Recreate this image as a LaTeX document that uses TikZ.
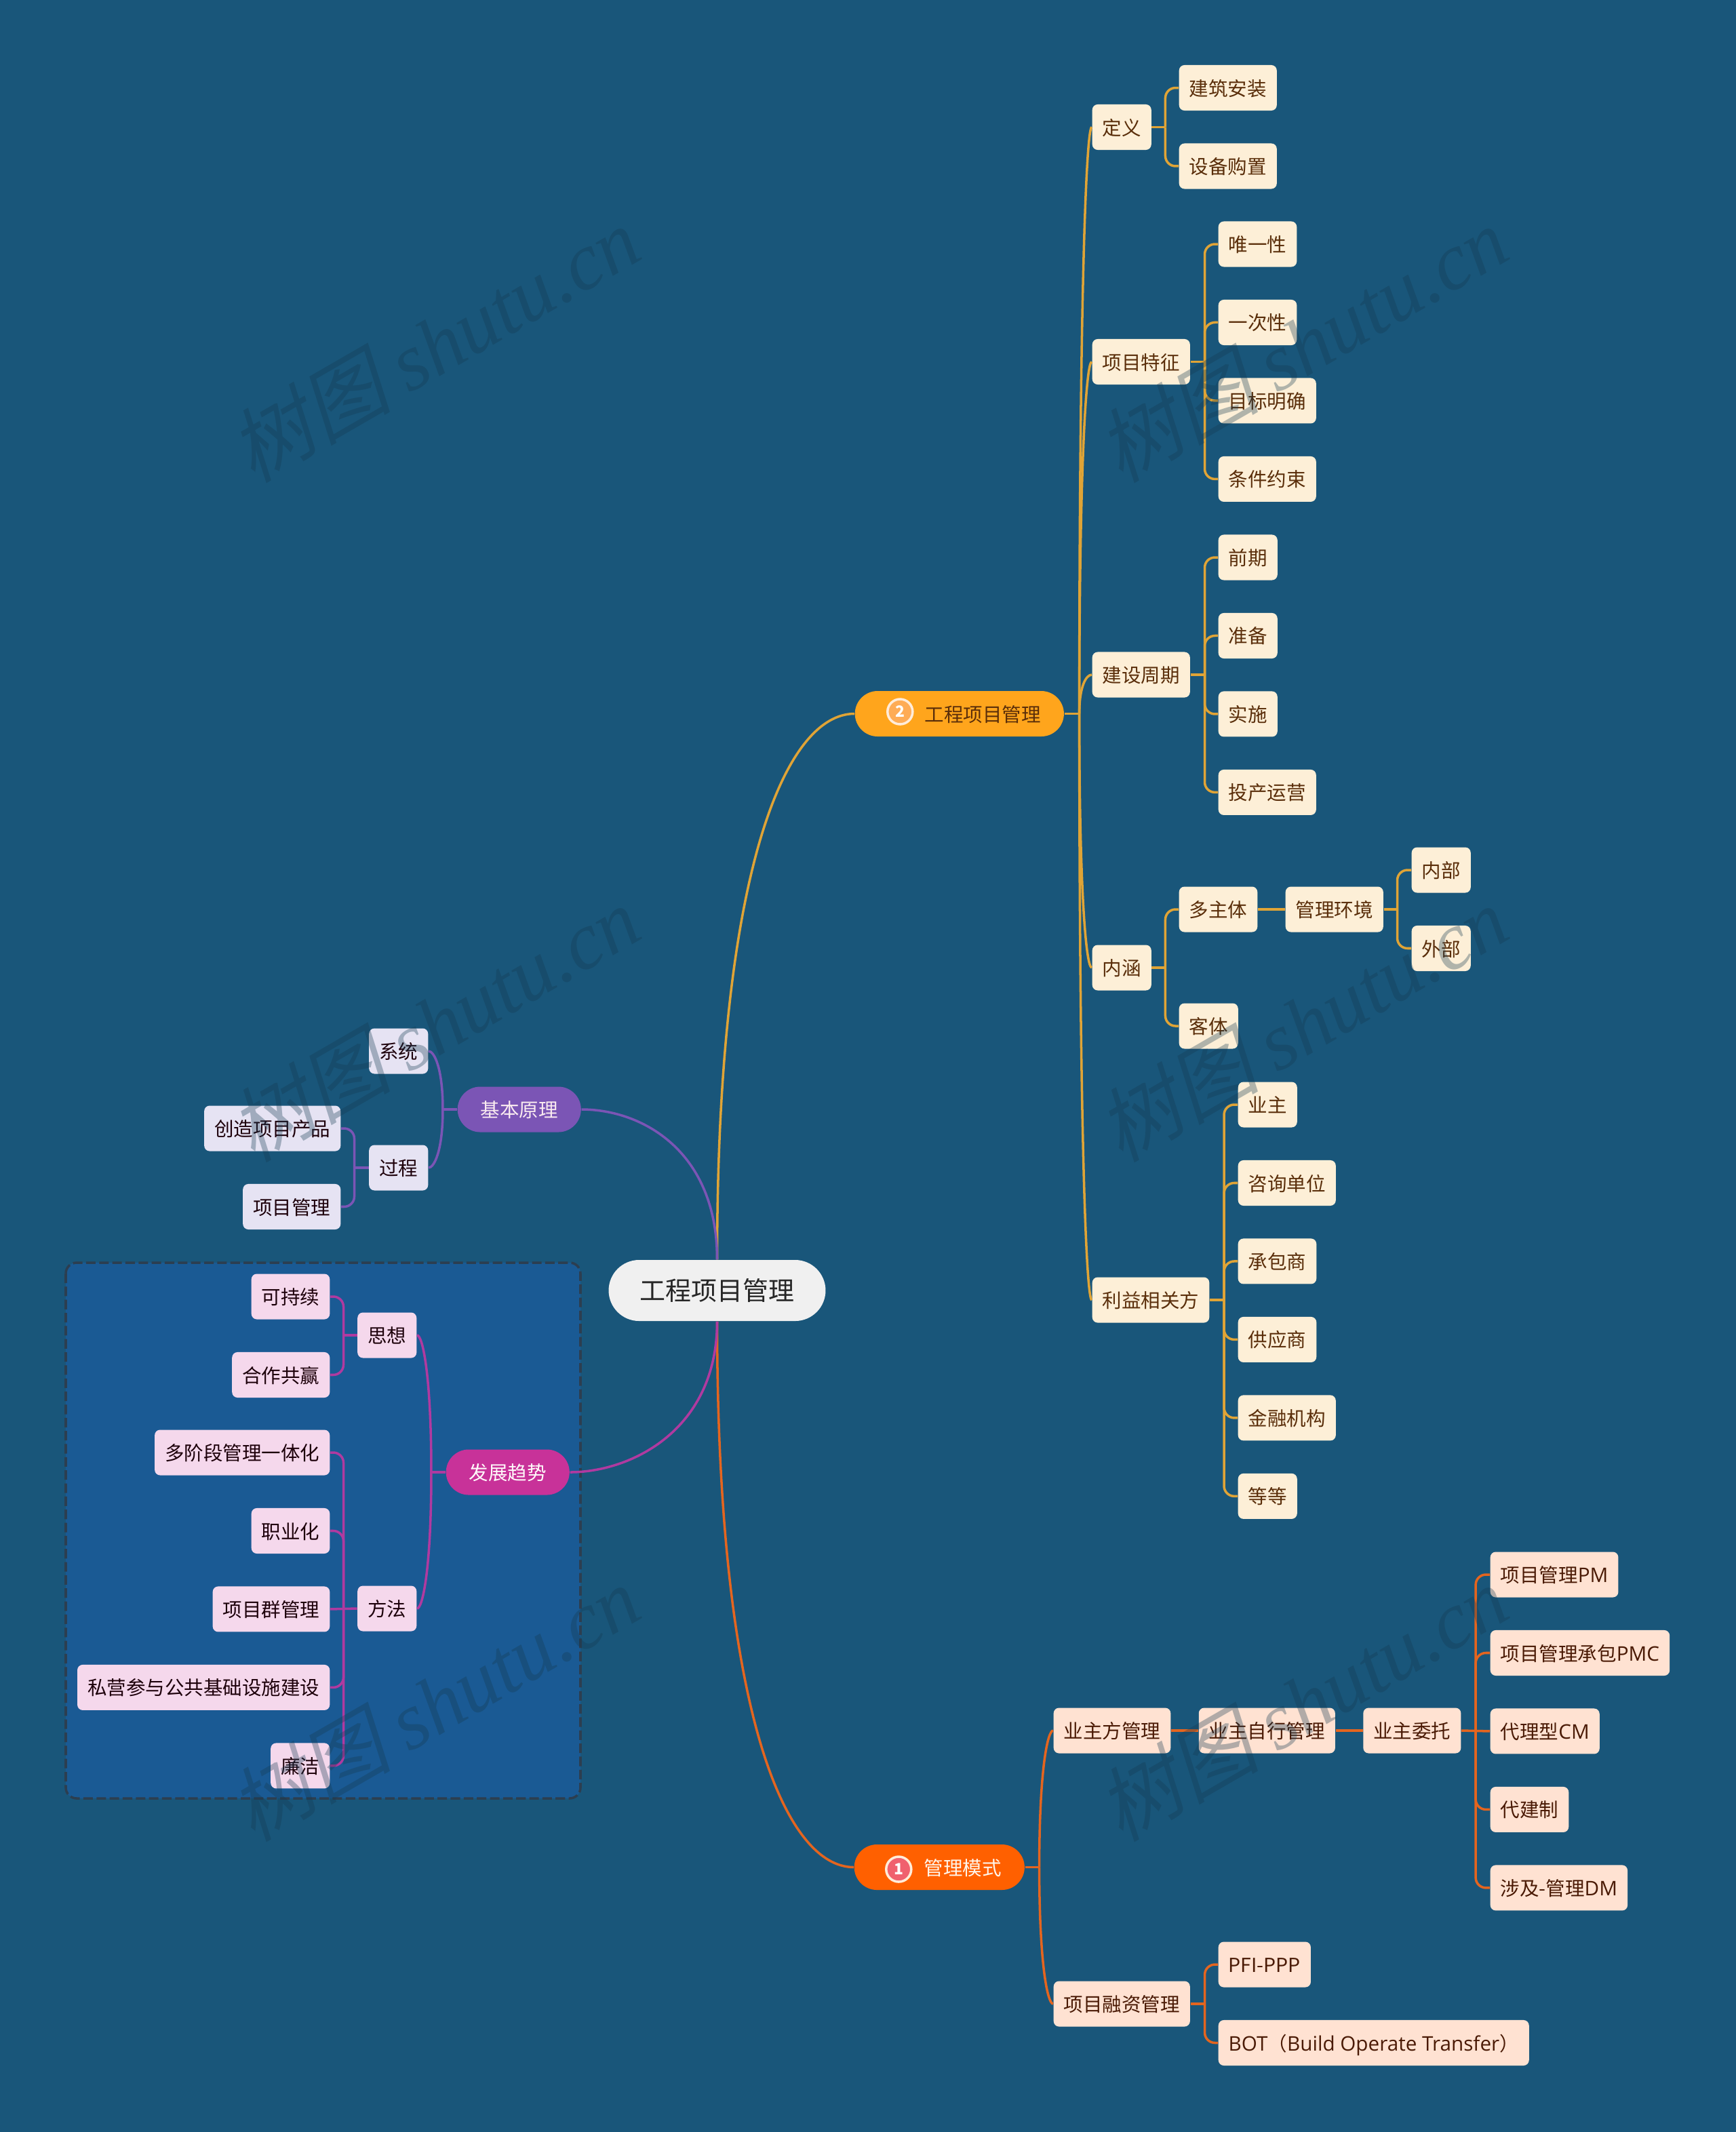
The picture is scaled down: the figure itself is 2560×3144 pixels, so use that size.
\documentclass[tikz,border=0pt]{standalone}
\usepackage{fontspec}
\setmainfont{Noto Sans CJK SC}
\newfontfamily\markcjk[FakeSlant=0.22]{Noto Sans CJK SC}
\newfontfamily\marklatin[ItalicFont={Liberation Serif Italic}]{Liberation Serif}
\newfontfamily\latinface[Scale=1.04]{Open Sans}
\usepackage{xcolor}
\usetikzlibrary{arrows.meta, positioning, calc}
\definecolor{paper}{HTML}{19567A}
\definecolor{boxblue}{HTML}{1A5A94}
\definecolor{boxedge}{HTML}{2C3E50}
\definecolor{marktext}{HTML}{143A50}
\definecolor{goldmain}{HTML}{FFA51C}
\definecolor{goldleaf}{HTML}{FDEFD7}
\definecolor{goldline}{HTML}{E0A436}
\definecolor{goldtext}{HTML}{5A2E0A}
\definecolor{redmain}{HTML}{FF6000}
\definecolor{redleaf}{HTML}{FFE2D2}
\definecolor{redline}{HTML}{E4651F}
\definecolor{redtext}{HTML}{4A1A05}
\definecolor{redbadge}{HTML}{F0606E}
\definecolor{purpmain}{HTML}{7B55B5}
\definecolor{purpleaf}{HTML}{E6E3F3}
\definecolor{pinkmain}{HTML}{C83299}
\definecolor{pinkleaf}{HTML}{F5D8EC}
\definecolor{pinkline}{HTML}{B03AA0}

\begin{document}
\begin{tikzpicture}[
  x=0.01cm, y=-0.01cm,
  node distance=0.47cm and 0.40cm,
  leaf/.style={rectangle, minimum height=0.67cm, inner xsep=0.15cm, inner ysep=0pt,
               text height=0.265cm, text depth=0.035cm, rounded corners=0.08cm,
               font=\fontsize{8.11}{9}\selectfont},
  gl/.style={leaf, fill=goldleaf, text=goldtext},
  rl/.style={leaf, fill=redleaf, text=redtext},
  vl/.style={leaf, fill=purpleaf, text=black!85!purple},
  pl/.style={leaf, fill=pinkleaf, text=black!85!purple},
  pill/.style={leaf, rounded corners=0.335cm, inner xsep=0.34cm},
  under/.style={below=of #1.south west, anchor=north west},
  underr/.style={below=of #1.south east, anchor=north east},
  badge/.style={circle, draw=white!85!orange, line width=1pt, minimum size=0.37cm,
                inner sep=0pt, text=white, font=\fontsize{6.5}{7}\selectfont\bfseries},
  wmark/.style={rotate=30, text=marktext, opacity=0.33,
                font=\fontsize{34}{38}\selectfont},
  gline/.style={goldline, line width=1pt, rounded corners=0.15cm},
  rline/.style={redline, line width=1pt, rounded corners=0.15cm},
  vline/.style={purpmain, line width=1pt, rounded corners=0.15cm},
  pline/.style={pinkline, line width=1pt, rounded corners=0.15cm},
  sweep/.style={to path={.. controls ($(\tikztostart)!0.72!(\tikztostart|-\tikztotarget)$)
                and ($(\tikztotarget)+(#1,0)$) .. (\tikztotarget)}}
]
\useasboundingbox (0,0) rectangle (2560,3144);
\fill[paper] (0,0) rectangle (2560,3144);
\draw[boxedge, fill=boxblue, dash pattern=on 4pt off 1.5pt, line width=1pt, rounded corners=0.16cm]
  (97,1862) rectangle (856,2652);

% Root
\node[leaf, fill=white!94!black, text=black!85, minimum height=0.9cm, rounded corners=0.45cm,
      inner xsep=0.46cm, text height=0.35cm, text depth=0.06cm,
      font=\fontsize{10.8}{12}\selectfont] (gc) at (1057.5,1903) {工程项目管理};

% Branch: 工程项目管理
\node[pill, fill=goldmain, text=goldtext, anchor=west] (gm) at (1260,1052.5)
  {\hspace{0.69cm}工程项目管理};
\node[badge, fill=orange!60!goldleaf, right=0.47cm of gm.west, yshift=0.03cm] (gmb) {2};
\node[gl, anchor=west] (dy) at (1610,187.5) {定义};
\node[gl, anchor=west] (jz) at (1738,129.5) {建筑安装};
\node[gl, under=jz] (sb) {设备购置};
\node[gl, anchor=west] (tz) at (1610,533.5) {项目特征};
\node[gl, anchor=west] (wy) at (1796,360) {唯一性};
\node[gl, under=wy] (yc) {一次性};
\node[gl, under=yc] (mb) {目标明确};
\node[gl, under=mb] (tj) {条件约束};
\node[gl, anchor=west] (zq) at (1610,995) {建设周期};
\node[gl, anchor=west] (qq) at (1796,822) {前期};
\node[gl, under=qq] (zb) {准备};
\node[gl, under=zb] (ss) {实施};
\node[gl, under=ss] (tc) {投产运营};
\node[gl, anchor=west] (nh) at (1610,1427) {内涵};
\node[gl, anchor=west] (dz) at (1738,1341) {多主体};
\node[gl, right=of dz] (hj) {管理环境};
\node[gl, anchor=west] (nb) at (2081,1283) {内部};
\node[gl, under=nb] (wb) {外部};
\node[gl, anchor=west] (kt) at (1738,1513) {客体};
\node[gl, anchor=west] (lx) at (1610,1917) {利益相关方};
\node[gl, anchor=west] (yz) at (1825,1629) {业主};
\node[gl, under=yz] (zx) {咨询单位};
\node[gl, under=zx] (cb) {承包商};
\node[gl, under=cb] (gy) {供应商};
\node[gl, under=gy] (jr) {金融机构};
\node[gl, under=jr] (dd) {等等};

% Branch: 管理模式
\node[pill, fill=redmain, text=white!92!orange, anchor=west] (rm) at (1259,2753.5)
  {\hspace{0.69cm}管理模式};
\node[badge, fill=redbadge, right=0.46cm of rm.west, yshift=-0.03cm] (rmb) {1};
\node[rl, anchor=west] (yf) at (1553,2552) {业主方管理};
\node[rl, right=of yf] (zx2) {业主自行管理};
\node[rl, right=of zx2] (wt) {业主委托};
\node[rl, anchor=west] (pm) at (2197,2322) {项目管理{\latinface PM}};
\node[rl, under=pm] (pmc) {项目管理承包{\latinface PMC}};
\node[rl, under=pmc] (cm) {代理型{\latinface CM}};
\node[rl, under=cm] (djz) {代建制};
\node[rl, under=djz] (sj) {涉及-管理{\latinface DM}};
\node[rl, anchor=west] (rz) at (1553,2955) {项目融资管理};
\node[rl, anchor=west] (pf) at (1796,2897) {PFI-PPP};
\node[rl, under=pf] (bot) {{\latinface BOT}（{\latinface Build Operate Transfer}）};

% Branch: 基本原理
\node[pill, fill=purpmain, text=white!92!purple, anchor=west] (vm) at (674,1636) {基本原理};
\node[vl, anchor=east] (xt) at (632,1550) {系统};
\node[vl, anchor=east] (gc2) at (632,1722) {过程};
\node[vl, anchor=east] (cz) at (503,1664) {创造项目产品};
\node[vl, underr=cz] (xg) {项目管理};

% Branch: 发展趋势
\node[pill, fill=pinkmain, text=white!92!pink, anchor=west] (pm2) at (657,2171) {发展趋势};
\node[pl, anchor=east] (sx) at (615,1969) {思想};
\node[pl, anchor=east] (kc) at (487,1912) {可持续};
\node[pl, underr=kc] (hz) {合作共赢};
\node[pl, anchor=east] (ff) at (615,2372) {方法};
\node[pl, anchor=east] (dj) at (487,2142) {多阶段管理一体化};
\node[pl, underr=dj] (zy) {职业化};
\node[pl, underr=zy] (qg) {项目群管理};
\node[pl, underr=qg] (sy) {私营参与公共基础设施建设};
\node[pl, underr=sy] (lj) {廉洁};

% Fork points
\coordinate[right=0.22cm of gm.east] (gmf);
\coordinate[right=0.2cm of dy.east] (dyf);
\coordinate[right=0.21cm of tz.east] (tzf);
\coordinate[right=0.21cm of zq.east] (zqf);
\coordinate[right=0.2cm of nh.east] (nhf);
\coordinate[right=0.2cm of hj.east] (hjf);
\coordinate[right=0.21cm of lx.east] (lxf);
\coordinate[right=0.21cm of rm.east] (rmf);
\coordinate[right=0.21cm of wt.east] (wtf);
\coordinate[right=0.21cm of rz.east] (rzf);
\coordinate[left=0.21cm of vm.west] (vmf);
\coordinate[left=0.21cm of gc2.west] (gcf);
\coordinate[left=0.21cm of pm2.west] (pmf);
\coordinate[left=0.2cm of sx.west] (sxf);
\coordinate[left=0.2cm of ff.west] (fff);

% Root to branches
\draw[goldline, line width=1pt] (gc.north) to[sweep=-100] (gm.west);
\draw[redline, line width=1pt] (gc.south) to[sweep=-100] (rm.west);
\draw[purpmain, line width=1pt] (gc.north) to[sweep=90] (vm.east);
\draw[pinkline, line width=1pt] (gc.south) to[sweep=90] (pm2.east);

% Gold arrows
\draw[gline] (gm.east) -- (gmf);
\draw[gline] (gmf) to[sweep=-8] (dy.west);
\draw[gline] (gmf) to[sweep=-8] (tz.west);
\draw[gline] (gmf) to[sweep=-8] (zq.west);
\draw[gline] (gmf) to[sweep=-8] (nh.west);
\draw[gline] (gmf) to[sweep=-8] (lx.west);
\draw[gline] (dy.east) -- (dyf);
\draw[gline] (dyf) |- (jz.west);
\draw[gline] (dyf) |- (sb.west);
\draw[gline] (tz.east) -- (tzf);
\draw[gline] (tzf) |- (wy.west);
\draw[gline] (tzf) |- (yc.west);
\draw[gline] (tzf) |- (mb.west);
\draw[gline] (tzf) |- (tj.west);
\draw[gline] (zq.east) -- (zqf);
\draw[gline] (zqf) |- (qq.west);
\draw[gline] (zqf) |- (zb.west);
\draw[gline] (zqf) |- (ss.west);
\draw[gline] (zqf) |- (tc.west);
\draw[gline] (nh.east) -- (nhf);
\draw[gline] (nhf) |- (dz.west);
\draw[gline] (nhf) |- (kt.west);
\draw[gline] (dz) -- (hj);
\draw[gline] (hj.east) -- (hjf);
\draw[gline] (hjf) |- (nb.west);
\draw[gline] (hjf) |- (wb.west);
\draw[gline] (lx.east) -- (lxf);
\draw[gline] (lxf) |- (yz.west);
\draw[gline] (lxf) |- (zx.west);
\draw[gline] (lxf) |- (cb.west);
\draw[gline] (lxf) |- (gy.west);
\draw[gline] (lxf) |- (jr.west);
\draw[gline] (lxf) |- (dd.west);

% Red arrows
\draw[rline] (rm.east) -- (rmf);
\draw[rline] (rmf) to[sweep=-8] (yf.west);
\draw[rline] (rmf) to[sweep=-8] (rz.west);
\draw[rline] (yf) -- (zx2);
\draw[rline] (zx2) -- (wt);
\draw[rline] (wt.east) -- (cm.west);
\draw[rline] (wtf) |- (pm.west);
\draw[rline] (wtf) |- (pmc.west);
\draw[rline] (wtf) |- (djz.west);
\draw[rline] (wtf) |- (sj.west);
\draw[rline] (rz.east) -- (rzf);
\draw[rline] (rzf) |- (pf.west);
\draw[rline] (rzf) |- (bot.west);

% Purple arrows
\draw[vline] (vm.west) -- (vmf);
\draw[vline] (vmf) to[sweep=8] (xt.east);
\draw[vline] (vmf) to[sweep=8] (gc2.east);
\draw[vline] (gc2.west) -- (gcf);
\draw[vline] (gcf) |- (cz.east);
\draw[vline] (gcf) |- (xg.east);

% Pink arrows
\draw[pline] (pm2.west) -- (pmf);
\draw[pline] (pmf) to[sweep=8] (sx.east);
\draw[pline] (pmf) to[sweep=8] (ff.east);
\draw[pline] (sx.west) -- (sxf);
\draw[pline] (sxf) |- (kc.east);
\draw[pline] (sxf) |- (hz.east);
\draw[pline] (ff.west) -- (qg.east);
\draw[pline] (fff) |- (dj.east);
\draw[pline] (fff) |- (zy.east);
\draw[pline] (fff) |- (sy.east);
\draw[pline] (fff) |- (lj.east);

% Watermarks
\node[wmark] (wm1) at (640,507) {\markcjk 树图 \marklatin\itshape shutu.cn};
\node[wmark] (wm2) at (1920,507) {\markcjk 树图 \marklatin\itshape shutu.cn};
\node[wmark] (wm3) at (640,1509) {\markcjk 树图 \marklatin\itshape shutu.cn};
\node[wmark] (wm4) at (1920,1509) {\markcjk 树图 \marklatin\itshape shutu.cn};
\node[wmark] (wm5) at (640,2511) {\markcjk 树图 \marklatin\itshape shutu.cn};
\node[wmark] (wm6) at (1920,2511) {\markcjk 树图 \marklatin\itshape shutu.cn};
\end{tikzpicture}
\end{document}
